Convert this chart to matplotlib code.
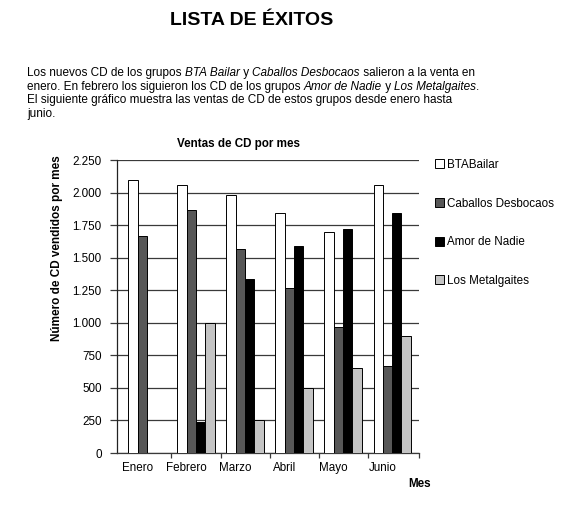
import matplotlib
matplotlib.use('Agg')
import matplotlib.pyplot as plt
import numpy as np

plt.rcParams['font.family'] = ['Liberation Sans', 'DejaVu Sans']

meses = ['Enero', 'Febrero', 'Marzo', 'Abril', 'Mayo', 'Junio']
grupos = ['BTABailar', 'Caballos Desbocaos', 'Amor de Nadie', 'Los Metalgaites']
bta = [2100, 2060, 1980, 1840, 1700, 2060]
caballos = [1670, 1870, 1570, 1270, 970, 670]
amor = [0, 240, 1340, 1590, 1720, 1840]
metal = [0, 1000, 250, 500, 650, 900]
colores = ['white', '#575757', 'black', '#c4c4c4']
yticks = [0, 250, 500, 750, 1000, 1250, 1500, 1750, 2000, 2250]

# (texto, cursiva) por linea
parrafo = [
    [('Los nuevos CD de los grupos ', False), ('BTA Bailar', True), (' y ', False),
     ('Caballos Desbocaos', True), (' salieron a la venta en', False)],
    [('enero. En febrero los siguieron los CD de los grupos ', False),
     ('Amor de Nadie', True), (' y ', False), ('Los Metalgaites', True), ('.', False)],
    [('El siguiente gráfico muestra las ventas de CD de estos grupos desde enero hasta', False)],
    [('junio.', False)],
]


def miles(v):
    return '{:,}'.format(v).replace(',', '.')


def main():
    fig = plt.figure(figsize=(5.7, 5.09), dpi=100)
    renderer = fig.canvas.get_renderer()

    fig.text(0.442, 0.959, 'LISTA DE ÉXITOS', fontsize=14, fontweight='bold',
             ha='center', va='center')

    for i, trozos in enumerate(parrafo):
        xpix = 27.0
        y = 1 - (71.5 + i * 13.6) / 509
        for txt, it in trozos:
            t = fig.text(xpix / 570, y, txt, fontsize=8.45, ha='left',
                         va='center_baseline',
                         style='italic' if it else 'normal')
            xpix += t.get_window_extent(renderer).width

    ax = fig.add_axes([0.2053, 0.1100, 0.5300, 0.5756])
    x = np.arange(len(meses))
    w = 0.19
    series = [bta, caballos, amor, metal]
    for k, (vals, c, g) in enumerate(zip(series, colores, grupos)):
        ax.bar(x + (k - 1.5) * w, vals, width=w, color=c, edgecolor='black',
               linewidth=0.7, label=g, zorder=3)

    ax.set_xlim(-0.61, 5.55)
    ax.set_ylim(0, 2250)
    ax.set_yticks(yticks)
    ax.set_yticklabels([miles(v) for v in yticks], fontsize=8.4)
    ax.yaxis.grid(True, color='#3a3a3a', linewidth=0.9, zorder=0)
    ax.set_axisbelow(True)
    ax.tick_params(axis='y', length=5, width=0.9, color='#3a3a3a', pad=6)

    ax.set_xticks(list(np.arange(0.5, 5, 1)) + [5.55])
    ax.set_xticklabels([])
    ax.tick_params(axis='x', length=3.6, width=0.9, color='#3a3a3a')
    for i, m in enumerate(meses):
        ax.text(i - 0.19, -0.05, m, transform=ax.get_xaxis_transform(),
                fontsize=8.4, ha='center', va='center')

    for s in ['top', 'right']:
        ax.spines[s].set_visible(False)
    ax.spines['left'].set_color('#222222')
    ax.spines['bottom'].set_color('#3a3a3a')
    ax.spines['left'].set_linewidth(0.9)
    ax.spines['bottom'].set_linewidth(0.9)

    fig.text(0.419, 1 - 144 / 509, 'Ventas de CD por mes', fontsize=8.4,
             fontweight='bold', ha='center', va='center')
    fig.text(0.716, 1 - 484 / 509, 'Mes', fontsize=8.4, fontweight='bold',
             ha='left', va='center')
    fig.text(0.1, 1 - 248 / 509, 'Número de CD vendidos por mes', fontsize=8.5,
             fontweight='bold', rotation=90, ha='center', va='center')

    fig.legend(loc='upper left', bbox_to_anchor=(0.763, 1 - 159 / 509),
               frameon=False, fontsize=8.4, handlelength=0.8, handleheight=0.8,
               handletextpad=0.2, labelspacing=2.28, borderaxespad=0,
               borderpad=0)

    fig.savefig('out.png', dpi=100)


if __name__ == '__main__':
    main()
